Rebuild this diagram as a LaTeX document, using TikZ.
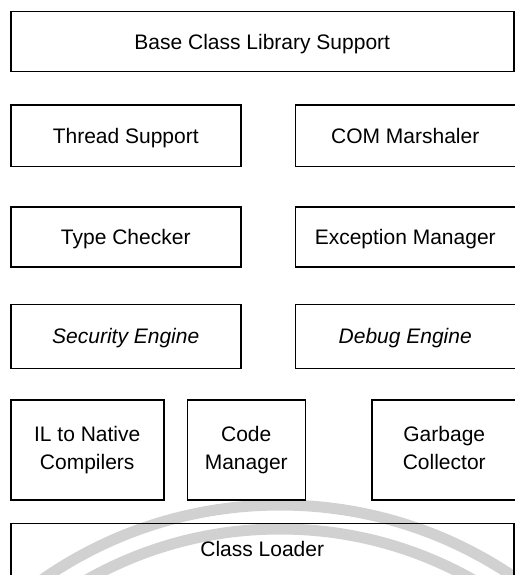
\documentclass[tikz,border=0pt]{standalone}
\usepackage{fontspec}
\setmainfont{Liberation Sans}
\usetikzlibrary{positioning}
\begin{document}
\begin{tikzpicture}[x=1pt,y=1pt,node distance=32pt,
    main node/.style={rectangle,draw,line width=1.5pt,inner sep=0pt,font=\fontsize{21}{28}\selectfont},
    one line/.style={main node,text height=15pt,text depth=0pt},
    two line/.style={main node,align=center,minimum height=100pt},
    half node/.style={one line,minimum width=230pt},
    right node/.style={one line,minimum width=220pt},
    slant/.style={font=\fontsize{21}{28}\selectfont\itshape},
    mark arc/.style={draw=black!18,line width=11pt}]
    \useasboundingbox (0,0) rectangle (514,-575);
    \path[mark arc] (280,-921) circle (416pt) (280,-921) circle (392pt);

    \node[one line,minimum width=503pt,minimum height=60pt,anchor=north west] (base) at (10,-11) {Base Class Library Support};
    \node[half node,minimum height=61pt] (thread) [below right=32pt and 0pt of base.south west] {Thread Support};
    \node[right node,minimum height=61pt] (com) [right=53pt of thread] {COM Marshaler};
    \node[half node,minimum height=60pt] (type) [below right=39pt and 0pt of thread.south west] {Type Checker};
    \node[right node,minimum height=60pt] (exception) [right=53pt of type] {Exception Manager};
    \node[half node,slant,minimum height=64pt] (security) [below right=36pt and 0pt of type.south west] {Security Engine};
    \node[right node,slant,minimum height=64pt] (debug) [right=53pt of security] {Debug Engine};
    \node[two line,minimum width=153pt] (il) [below right=30pt and 0pt of security.south west] {IL to Native\\Compilers};
    \node[two line,minimum width=118pt] (code) [right=22pt of il] {Code\\Manager};
    \node[two line,minimum width=145pt] (garbage) [right=65pt of code] {Garbage\\Collector\vphantom{g}};
    \node[main node,minimum width=503pt,minimum height=66pt,text height=15pt,text depth=15pt] (loader) [below right=22pt and 0pt of il.south west] {Class Loader};
\end{tikzpicture}
\end{document}
